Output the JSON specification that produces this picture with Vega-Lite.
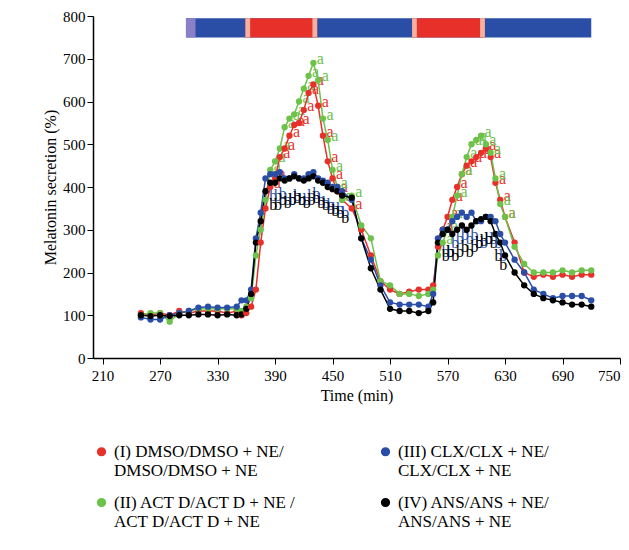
{
"$schema":"https://vega.github.io/schema/vega-lite/v6.json",
"width":527,"height":342,"autosize":"none",
"padding":{"left":93,"top":16,"right":9,"bottom":192},
"config":{"font":"Liberation Serif","view":{"stroke":null},"axis":{"grid":false,"domainColor":"black","tickColor":"black","labelColor":"black","titleColor":"black","labelFontSize":15,"titleFontSize":16,"titleFontWeight":"normal","labelFont":"Liberation Serif","titleFont":"Liberation Serif","domainWidth":1.5}},
"datasets":{
"bars":[{"a":297,"b":720,"c":"#2a4ea6"},{"a":297,"b":307,"c":"#8a80c8"},{"a":359,"b":434,"c":"#e8302a"},{"a":533,"b":609,"c":"#e8302a"},{"a":359,"b":364,"c":"#f4b0a0"},{"a":429,"b":434,"c":"#f4b0a0"},{"a":533,"b":538,"c":"#f4b0a0"},{"a":604,"b":609,"c":"#f4b0a0"}],
"w":[
{"t":250,"I":105,"II":100,"III":95,"IV":100},
{"t":260,"I":100,"II":105,"III":90,"IV":98},
{"t":270,"I":105,"II":105,"III":90,"IV":100},
{"t":280,"I":100,"II":85,"III":100,"IV":98},
{"t":290,"I":110,"II":105,"III":105,"IV":100},
{"t":300,"I":105,"II":110,"III":110,"IV":100},
{"t":310,"I":110,"II":115,"III":118,"IV":102},
{"t":320,"I":110,"II":115,"III":120,"IV":102},
{"t":330,"I":110,"II":115,"III":118,"IV":100},
{"t":340,"I":105,"II":115,"III":118,"IV":102},
{"t":350,"I":110,"II":115,"III":120,"IV":100},
{"t":355,"I":100,"II":110,"III":135,"IV":102},
{"t":360,"I":105,"II":120,"III":135,"IV":115},
{"t":365,"I":120,"II":140,"III":160,"IV":150},
{"t":370,"I":160,"II":240,"III":280,"IV":270},
{"t":375,"I":270,"II":300,"III":340,"IV":320},
{"t":380,"I":350,"II":370,"III":420,"IV":390},
{"t":385,"I":400,"II":440,"III":430,"IV":410},
{"t":390,"I":420,"II":460,"III":430,"IV":410},
{"t":395,"I":470,"II":490,"III":435,"IV":420},
{"t":400,"I":490,"II":540,"III":420,"IV":415},
{"t":405,"I":520,"II":560,"III":420,"IV":420},
{"t":410,"I":545,"II":570,"III":430,"IV":425},
{"t":415,"I":550,"II":600,"III":420,"IV":420},
{"t":420,"I":580,"II":630,"III":420,"IV":415},
{"t":425,"I":620,"II":660,"III":430,"IV":420},
{"t":430,"I":640,"II":690,"III":435,"IV":425},
{"t":435,"I":590,"II":650,"III":420,"IV":415},
{"t":440,"I":520,"II":560,"III":415,"IV":410},
{"t":445,"I":460,"II":510,"III":410,"IV":400},
{"t":450,"I":420,"II":440,"III":400,"IV":395},
{"t":455,"I":390,"II":400,"III":400,"IV":390},
{"t":460,"I":370,"II":370,"III":390,"IV":380},
{"t":470,"I":350,"II":380,"III":370,"IV":375},
{"t":480,"I":300,"II":310,"III":280,"IV":280},
{"t":490,"I":240,"II":280,"III":230,"IV":210},
{"t":500,"I":180,"II":180,"III":170,"IV":160},
{"t":510,"I":160,"II":170,"III":130,"IV":115},
{"t":520,"I":150,"II":150,"III":125,"IV":110},
{"t":530,"I":155,"II":150,"III":125,"IV":110},
{"t":540,"I":160,"II":145,"III":125,"IV":105},
{"t":550,"I":160,"II":150,"III":120,"IV":110},
{"t":555,"I":170,"II":160,"III":150,"IV":130},
{"t":560,"I":260,"II":240,"III":280,"IV":270},
{"t":565,"I":300,"II":270,"III":300,"IV":290},
{"t":570,"I":330,"II":300,"III":300,"IV":300},
{"t":575,"I":370,"II":330,"III":320,"IV":290},
{"t":580,"I":400,"II":380,"III":330,"IV":300},
{"t":585,"I":430,"II":430,"III":340,"IV":310},
{"t":590,"I":450,"II":470,"III":330,"IV":300},
{"t":595,"I":460,"II":500,"III":340,"IV":310},
{"t":600,"I":470,"II":510,"III":320,"IV":320},
{"t":605,"I":480,"II":520,"III":320,"IV":325},
{"t":610,"I":490,"II":500,"III":330,"IV":330},
{"t":615,"I":470,"II":480,"III":330,"IV":320},
{"t":620,"I":410,"II":420,"III":320,"IV":290},
{"t":625,"I":370,"II":360,"III":290,"IV":270},
{"t":630,"I":330,"II":330,"III":270,"IV":240},
{"t":640,"I":270,"II":260,"III":230,"IV":200},
{"t":650,"I":200,"II":220,"III":200,"IV":170},
{"t":660,"I":190,"II":200,"III":160,"IV":150},
{"t":670,"I":195,"II":200,"III":150,"IV":140},
{"t":680,"I":190,"II":200,"III":140,"IV":135},
{"t":690,"I":195,"II":205,"III":145,"IV":130},
{"t":700,"I":190,"II":200,"III":145,"IV":125},
{"t":710,"I":195,"II":205,"III":145,"IV":125},
{"t":720,"I":195,"II":205,"III":135,"IV":120}
]},
"layer":[
{"data":{"name":"bars"},"mark":{"type":"rect"},"encoding":{"x":{"field":"a","type":"quantitative","scale":{"domain":[210,750]}},"x2":{"field":"b"},"y":{"datum":795,"type":"quantitative"},"y2":{"datum":750},"fill":{"field":"c","type":"nominal","scale":null,"legend":null}}},
{"data":{"name":"w"},"transform":[{"fold":["I","II"],"as":["s","v"]},{"filter":"(datum.t>=385 && datum.t<=470) || (datum.t>=565 && datum.t<=630)"}],
"mark":{"type":"text","fontSize":16,"dx":7,"dy":-4,"text":"a"},
"encoding":{"x":{"field":"t","type":"quantitative"},"y":{"field":"v","type":"quantitative"},
"color":{"field":"s","type":"nominal"}}},
{"data":{"name":"w"},"transform":[{"fold":["III","IV"],"as":["s","v"]},{"filter":"(datum.t>=385 && datum.t<=465) || (datum.t>=565 && datum.t<=625)"}],
"mark":{"type":"text","fontSize":16,"dx":3,"dy":22,"text":"b"},
"encoding":{"x":{"field":"t","type":"quantitative"},"y":{"field":"v","type":"quantitative"},
"color":{"field":"s","type":"nominal"}}},
{"data":{"name":"w"},"transform":[{"fold":["I","II","III","IV"],"as":["s","v"]}],
"mark":{"type":"line","strokeWidth":1.5,"point":{"filled":true,"size":40,"opacity":1}},
"encoding":{"x":{"field":"t","type":"quantitative","scale":{"domain":[210,750]},"axis":{"values":[210,270,330,390,450,510,570,630,690,750],"title":"Time (min)","tickSize":6,"labelPadding":4}},
"y":{"field":"v","type":"quantitative","scale":{"domain":[0,800]},"axis":{"values":[0,100,200,300,400,500,600,700,800],"title":"Melatonin secretion (%)","tickSize":6}},
"color":{"field":"s","type":"nominal","scale":{"domain":["I","III","II","IV"],"range":["#e8302a","#2a4ea6","#6cc24a","#000000"]},
"legend":{"orient":"bottom","columns":2,"title":null,"offset":40,"columnPadding":80,"rowPadding":14,"labelFontSize":17,"labelFont":"Liberation Serif","symbolType":"circle","symbolSize":60,"labelLimit":300,"labelExpr":"datum.value=='I'?['(I) DMSO/DMSO + NE/','DMSO/DMSO + NE']:datum.value=='II'?['(II) ACT D/ACT D + NE /','ACT D/ACT D + NE']:datum.value=='III'?['(III) CLX/CLX + NE/','CLX/CLX + NE']:['(IV) ANS/ANS + NE/','ANS/ANS + NE']"}}}}
]}
